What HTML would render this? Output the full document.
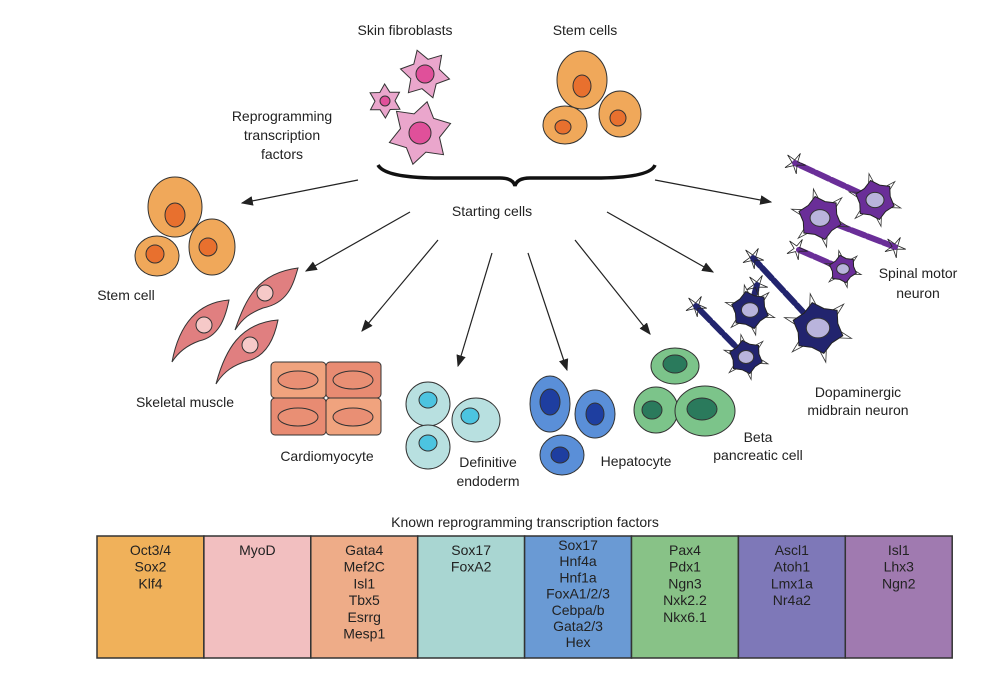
<!DOCTYPE html>
<html><head><meta charset="utf-8"><style>
body{margin:0;background:#fff;}
svg{display:block;font-family:"Liberation Sans",Arial,sans-serif;}
text{font-size:14px;fill:#222;}
</style></head><body>
<svg id="fig" width="1006" height="690" viewBox="0 0 1006 690">
<defs><marker id="ah" markerWidth="10" markerHeight="8" refX="9" refY="4" orient="auto"><path d="M0,0 L10,4 L0,8 Z" fill="#222"/></marker></defs>
<g>
<text x="405" y="35" text-anchor="middle">Skin fibroblasts</text>
<text x="585" y="35" text-anchor="middle">Stem cells</text>
<text x="282" y="121" text-anchor="middle">Reprogramming</text>
<text x="282" y="140" text-anchor="middle">transcription</text>
<text x="282" y="159" text-anchor="middle">factors</text>
<text x="492" y="216" text-anchor="middle">Starting cells</text>
<text x="126" y="300" text-anchor="middle">Stem cell</text>
<text x="185" y="407" text-anchor="middle">Skeletal muscle</text>
<text x="327" y="461" text-anchor="middle">Cardiomyocyte</text>
<text x="488" y="467" text-anchor="middle">Definitive</text>
<text x="488" y="486" text-anchor="middle">endoderm</text>
<text x="636" y="466" text-anchor="middle">Hepatocyte</text>
<text x="758" y="442" text-anchor="middle">Beta</text>
<text x="758" y="460" text-anchor="middle">pancreatic cell</text>
<text x="918" y="278" text-anchor="middle">Spinal motor</text>
<text x="918" y="298" text-anchor="middle">neuron</text>
<text x="858" y="397" text-anchor="middle">Dopaminergic</text>
<text x="858" y="415" text-anchor="middle">midbrain neuron</text>
<text x="525" y="527" text-anchor="middle">Known reprogramming transcription factors</text>
</g>
<path d="M378,165 Q385,178 440,178 L500,178 Q513,178 515,186 Q517,178 530,178 L595,178 Q650,178 655,165" fill="none" stroke="#111" stroke-width="3.5"/>
<g stroke="#222" stroke-width="1.2" marker-end="url(#ah)">
<line x1="358" y1="180" x2="242" y2="203"/>
<line x1="410" y1="212" x2="306" y2="271"/>
<line x1="438" y1="240" x2="362" y2="331"/>
<line x1="492" y1="253" x2="458" y2="366"/>
<line x1="528" y1="253" x2="567" y2="370"/>
<line x1="575" y1="240" x2="650" y2="334"/>
<line x1="607" y1="212" x2="713" y2="272"/>
<line x1="655" y1="180" x2="771" y2="202"/>
</g>
<g stroke="#333" stroke-width="1">
<g>
<ellipse cx="582" cy="80" rx="25" ry="29" fill="#f0a85a"/><ellipse cx="582" cy="86" rx="9" ry="11" fill="#e8702e"/>
<ellipse cx="565" cy="125" rx="22" ry="19" fill="#f0a85a"/><ellipse cx="563" cy="127" rx="8" ry="7" fill="#e8702e"/>
<ellipse cx="620" cy="114" rx="21" ry="23" fill="#f0a85a"/><ellipse cx="618" cy="118" rx="8" ry="8" fill="#e8702e"/>
</g>
<g>
<ellipse cx="175" cy="207" rx="27" ry="30" fill="#f0a85a"/><ellipse cx="175" cy="215" rx="10" ry="12" fill="#e8702e"/>
<ellipse cx="157" cy="256" rx="22" ry="20" fill="#f0a85a"/><ellipse cx="155" cy="254" rx="9" ry="9" fill="#e8702e"/>
<ellipse cx="212" cy="247" rx="23" ry="28" fill="#f0a85a"/><ellipse cx="208" cy="247" rx="9" ry="9" fill="#e8702e"/>
</g>
<g fill="#e07f80">
<path transform="translate(268,293)" d="M-33,37 C-22,5 -10,-20 30,-25 C25,-8 20,10 -5,15 C-18,20 -25,25 -33,37 Z"/><circle cx="265" cy="293" r="8" fill="#f6c9c8"/>
<path transform="translate(203,325)" d="M-31,37 C-25,5 -10,-22 26,-25 C22,-5 15,12 -4,16 C-15,20 -24,26 -31,37 Z"/><circle cx="204" cy="325" r="8" fill="#f6c9c8"/>
<path transform="translate(250,345)" d="M-34,39 C-25,5 -10,-22 28,-25 C24,-5 15,12 -3,16 C-16,20 -26,26 -34,39 Z"/><circle cx="250" cy="345" r="8" fill="#f6c9c8"/>
</g>
<g>
<rect x="271" y="362" width="55" height="36" rx="4" fill="#f0a37e"/><ellipse cx="298" cy="380" rx="20" ry="9" fill="#e98f74"/>
<rect x="326" y="362" width="55" height="36" rx="4" fill="#e88b72"/><ellipse cx="353" cy="380" rx="20" ry="9" fill="#e98f74"/>
<rect x="271" y="398" width="55" height="37" rx="4" fill="#e88b72"/><ellipse cx="298" cy="417" rx="20" ry="9" fill="#e98f74"/>
<rect x="326" y="398" width="55" height="37" rx="4" fill="#f0a37e"/><ellipse cx="353" cy="417" rx="20" ry="9" fill="#e98f74"/>
</g>
<g>
<ellipse cx="428" cy="404" rx="22" ry="22" fill="#b8e0e0"/><ellipse cx="428" cy="400" rx="9" ry="8" fill="#4cc4e0"/>
<ellipse cx="476" cy="420" rx="24" ry="22" fill="#b8e0e0"/><ellipse cx="470" cy="416" rx="9" ry="8" fill="#4cc4e0"/>
<ellipse cx="428" cy="447" rx="22" ry="22" fill="#b8e0e0"/><ellipse cx="428" cy="443" rx="9" ry="8" fill="#4cc4e0"/>
</g>
<g>
<ellipse cx="550" cy="404" rx="20" ry="28" fill="#5a8fd8"/><ellipse cx="550" cy="402" rx="10" ry="13" fill="#1e3ea0"/>
<ellipse cx="595" cy="414" rx="20" ry="24" fill="#5a8fd8"/><ellipse cx="595" cy="414" rx="9" ry="11" fill="#1e3ea0"/>
<ellipse cx="562" cy="455" rx="22" ry="20" fill="#5a8fd8"/><ellipse cx="560" cy="455" rx="9" ry="8" fill="#1e3ea0"/>
</g>
<g>
<ellipse cx="675" cy="366" rx="24" ry="18" fill="#7cc48a"/><ellipse cx="675" cy="364" rx="12" ry="9" fill="#2a7a5c"/>
<ellipse cx="656" cy="410" rx="22" ry="23" fill="#7cc48a"/><ellipse cx="652" cy="410" rx="10" ry="9" fill="#2a7a5c"/>
<ellipse cx="705" cy="411" rx="30" ry="25" fill="#7cc48a"/><ellipse cx="702" cy="409" rx="15" ry="11" fill="#2a7a5c"/>
</g>
<g id="fib"></g>
<g id="neu"></g>
</g>
<g id="tbl"></g>
</svg>
<script>
const NS="http://www.w3.org/2000/svg";
function star(cx,cy,R,r,n,rot){let p=[];for(let i=0;i<2*n;i++){const a=rot+Math.PI*i/n;const rr=i%2?r:R;p.push((cx+rr*Math.cos(a)).toFixed(1)+","+(cy+rr*Math.sin(a)).toFixed(1));}return p.join(" ");}
const fib=document.getElementById("fib");
[[425,74,25,15,0.2,9],[385,101,17,10,0.5,5],[420,133,32,20,-0.3,11]].forEach(f=>{
 const s=document.createElementNS(NS,"polygon");s.setAttribute("points",star(f[0],f[1],f[2],f[3],6,f[4]));s.setAttribute("fill","#eaa6cc");
 
 
 fib.appendChild(s);
 const c=document.createElementNS(NS,"circle");c.setAttribute("cx",f[0]);c.setAttribute("cy",f[1]);c.setAttribute("r",f[5]);c.setAttribute("fill","#e0509a");fib.appendChild(c);});
const neu=document.getElementById("neu");
function axon(x1,y1,x2,y2,col){
 const l=document.createElementNS(NS,"line");l.setAttribute("x1",x1);l.setAttribute("y1",y1);l.setAttribute("x2",x2);l.setAttribute("y2",y2);l.setAttribute("stroke",col);l.setAttribute("stroke-width","6");l.setAttribute("stroke-dasharray","14 3");l.setAttribute("stroke-linecap","round");neu.appendChild(l);
 const t=document.createElementNS(NS,"polygon");t.setAttribute("points",star(x2,y2,11,3,5,0.2));t.setAttribute("fill","none");t.setAttribute("stroke","#222");t.setAttribute("stroke-width","0.8");neu.appendChild(t);}
const neurons=[[875,200,20,"#6a2e98",[[795,163]]],[820,218,22,"#6a2e98",[[895,247]]],[843,269,14,"#6a2e98",[[797,249]]],
[750,310,19,"#22246e",[[757,285]]],[818,328,26,"#22246e",[[753,258]]],[746,357,17,"#22246e",[[696,306]]]];
neurons.forEach(n=>{n[4].forEach(a=>axon(n[0],n[1],a[0],a[1],n[3]));});
neurons.forEach(n=>{
 const t=document.createElementNS(NS,"polygon");t.setAttribute("points",star(n[0],n[1],n[2]*1.35,n[2]*0.5,6,0.3));t.setAttribute("fill","none");t.setAttribute("stroke","#333");t.setAttribute("stroke-width","0.8");neu.appendChild(t);
 const s=document.createElementNS(NS,"polygon");s.setAttribute("points",star(n[0],n[1],n[2],n[2]*0.78,6,0.3));s.setAttribute("fill",n[3]);s.setAttribute("stroke","#222");
 
 
 neu.appendChild(s);
 const c=document.createElementNS(NS,"ellipse");c.setAttribute("cx",n[0]);c.setAttribute("cy",n[1]);c.setAttribute("rx",n[2]*0.45);c.setAttribute("ry",n[2]*0.38);c.setAttribute("fill","#b9b4dc");neu.appendChild(c);});
const cols=[["#f0b15a",["Oct3/4","Sox2","Klf4"]],["#f2bfc0",["MyoD"]],["#eeac88",["Gata4","Mef2C","Isl1","Tbx5","Esrrg","Mesp1"]],["#a9d6d2",["Sox17","FoxA2"]],["#6a9ad4",["Sox17","Hnf4a","Hnf1a","FoxA1/2/3","Cebpa/b","Gata2/3","Hex"]],["#88c287",["Pax4","Pdx1","Ngn3","Nxk2.2","Nkx6.1"]],["#7e78b8",["Ascl1","Atoh1","Lmx1a","Nr4a2"]],["#a07ab0",["Isl1","Lhx3","Ngn2"]]];
const tbl=document.getElementById("tbl");const x0=97,w=106.9,y0=536,h=122;
cols.forEach((c,i)=>{const r=document.createElementNS(NS,"rect");r.setAttribute("x",x0+i*w);r.setAttribute("y",y0);r.setAttribute("width",w);r.setAttribute("height",h);r.setAttribute("fill",c[0]);r.setAttribute("stroke","#333");r.setAttribute("stroke-width","1.5");
 
 
 tbl.appendChild(r);
 const tight=c[1].length>6;
 c[1].forEach((t,j)=>{const tx=document.createElementNS(NS,"text");tx.setAttribute("x",x0+i*w+w/2);tx.setAttribute("y",(tight?y0+14:y0+19)+j*(tight?16.2:16.7));tx.setAttribute("text-anchor","middle");tx.textContent=t;
 
 
 tbl.appendChild(tx);});});
</script>
</body></html>
